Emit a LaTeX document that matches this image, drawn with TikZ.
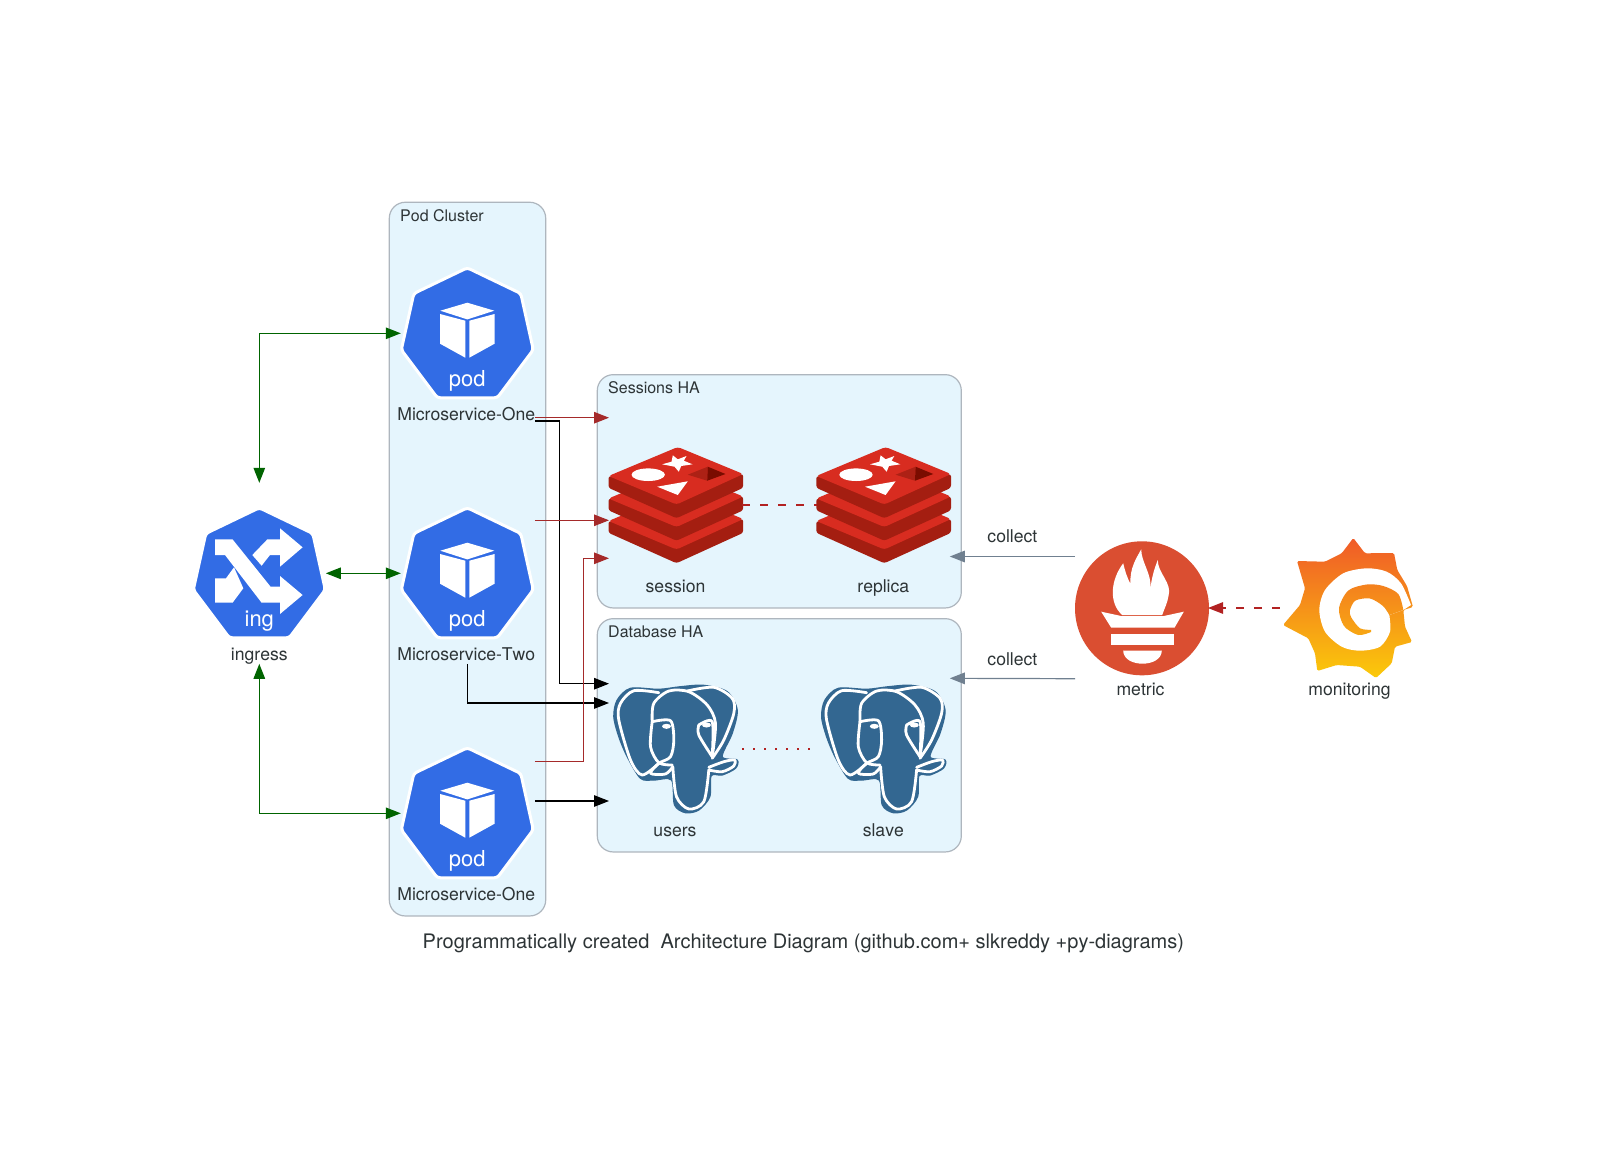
\documentclass[tikz,border=0pt]{standalone}
\usepackage{fontspec}
\setmainfont[Kerning=Off]{TeX Gyre Heros}
\usetikzlibrary{arrows.meta}
\definecolor{clusterfill}{HTML}{E5F5FD}
\definecolor{clusterline}{HTML}{AEB6BE}
\definecolor{inktext}{HTML}{2D3436}
\definecolor{kubeblue}{HTML}{326CE5}
\definecolor{redisbright}{HTML}{D82C20}
\definecolor{redisdark}{HTML}{A41E11}
\definecolor{redismid}{HTML}{AD2115}
\definecolor{redisdeep}{HTML}{7A0C00}
\definecolor{pgblue}{HTML}{336791}
\definecolor{promred}{HTML}{DA4E31}
\definecolor{grafanatop}{HTML}{F05A28}
\definecolor{grafanalow}{HTML}{FBCA0A}
\definecolor{greenline}{HTML}{006400}
\definecolor{redline}{HTML}{A52A2A}
\definecolor{fireline}{HTML}{B22222}
\definecolor{grayline}{HTML}{708090}
\tikzset{
conn/.style={line width=1.2pt, -{Triangle[length=15pt,width=11.5pt]}}, % plain directed edge
both/.style={conn, {Triangle[length=15pt,width=11.5pt]}-{Triangle[length=15pt,width=11.5pt]}, greenline},
cluster/.style={draw=clusterline, fill=clusterfill, line width=1.2pt, rounded corners=16pt},
clustertitle/.style={text=inktext, anchor=base west, inner sep=0pt, font=\fontsize{16}{18}\selectfont},
iconbox/.style={minimum width=133pt, minimum height=181pt, inner sep=0pt, outer sep=0pt}, % invisible box round each icon
iconlabel/.style={text=inktext, anchor=base, inner sep=0pt, font=\fontsize{17.6}{20}\selectfont},
icontext/.style={text=white, anchor=base, inner sep=0pt, font=\fontsize{22}{24}\selectfont},
elephantline/.style={draw=white, line width=2.8pt, line cap=round, line join=round},
hexagon/.pic={
  \path[fill=kubeblue, draw=white, line width=3pt, rounded corners=3pt]
    (0,-65.5) -- (53.5,-39.8) -- (66,16.5) -- (30,64.5) -- (-30,64.5) -- (-66,16.5) -- (-53.5,-39.8) -- cycle;
},
podicon/.pic={
  \pic {hexagon};
  \fill[white] (0,-30.6) -- (27,-22.6) -- (0,-13.9) -- (-27,-22.6) -- cycle;
  \fill[white] (-27.3,-19.3) -- (-2,-12.6) -- (-2,24.4) -- (-27.3,10.4) -- cycle;
  \fill[white] (27.3,-19.3) -- (2,-12.6) -- (2,24.4) -- (27.3,10.4) -- cycle;
  \node[icontext] (podtext) at (0,53.4) {pod};
},
ingicon/.pic={
  \pic {hexagon};
  \fill[white] (-44.3,-33.9) -- (-26.7,-33.9) -- (11.3,13.4) -- (20.7,13.4) -- (20.7,2.7) -- (43.3,21.7)
    -- (20.7,40.7) -- (20.7,29.4) -- (2.3,29.4) -- (-34.3,-18.3) -- (-44.3,-18.3) -- cycle;
  \fill[white] (20.7,-33.9) -- (20.7,-45) -- (43.3,-26) -- (20.7,-6.6) -- (20.7,-18.3) -- (10.7,-18.3)
    -- (2.3,-7.6) -- (-7,-18.3) -- (8,-33.9) -- cycle;
  \fill[white] (-44.3,5) -- (-33.3,5) -- (-25.3,-6) -- (-16,15) -- (-26.7,29.4) -- (-44.3,29.4) -- cycle;
  \node[icontext] (ingtext) at (0,53.4) {ing};
},
redisicon/.pic={
  \foreach \dy in {45,22.5,0} {
    \begin{scope}[yshift=-\dy pt]
      \fill[redisdark, rounded corners=2.5pt] (-67,-29) -- (-67,-17.2) -- (1,13.2) -- (67.7,-17.2) -- (67.7,-31) -- (1,-20) -- cycle;
      \fill[redisbright, rounded corners=3pt] (2.3,-58) -- (67.7,-31) -- (1,-0.5) -- (-67,-29) -- cycle;
    \end{scope}
  }
  \fill[white] (-2.7,-49.7) -- (2.3,-45.7) -- (11,-49) -- (8.3,-44.3) -- (17,-40.7) -- (5.7,-39) -- (3.3,-33.3)
    -- (-1,-38.3) -- (-13.3,-40.7) -- (-4,-43.3) -- cycle;
  \fill[white] (-27.3,-30.3) ellipse [x radius=16.7, y radius=6.3];
  \fill[white] (-18.3,-18.3) -- (12.3,-23.7) -- (2.3,-10) -- cycle;
  \fill[redismid] (12.3,-30.3) -- (32.3,-38.3) -- (31.7,-24.3) -- cycle;
  \fill[redisdeep] (32.3,-38.3) -- (50,-31) -- (31.7,-24.3) -- cycle;
},
pgicon/.pic={
  \path[fill=pgblue, draw=pgblue, line width=1.2pt, line join=round] plot[smooth cycle] coordinates {(-61.7,-32.3) (-58.3,-49) (-45,-60.7) (-16.7,-59.7) (5,-62.3) (28.3,-63.7)
    (51.7,-57.3) (61.7,-39) (56.7,-15.7) (46.7,7.7) (61.7,11) (60,19.3) (46.7,26) (35.7,26.7) (34.3,47.7) (23.3,61)
    (10,63.7) (-1,56) (-4,31) (-21.7,31) (-35,29.3) (-48.3,7.7) (-56.7,-12.3)};
  \draw[elephantline] plot[smooth] coordinates {(-16.7,-56.3) (-41.7,-58.3) (-55,-45.7) (-56.7,-29) (-45,11) (-33.3,26) (-16.7,14.3)};
  \draw[elephantline] plot[smooth] coordinates {(-23.3,-27.3) (-21.7,-45.7) (-6.7,-58) (13.3,-57.3) (31.7,-44) (40,-25.7) (36.7,7.7)};
  \draw[elephantline] plot[smooth] coordinates {(11.7,-58) (38.3,-61.7) (56.7,-50.7) (58.3,-35.7) (48.3,-9) (36.7,9.3)};
  \draw[elephantline] plot[smooth] coordinates {(-2.7,17.7) (1,47.7) (13.3,60) (28.3,52.7) (33.3,21)};
  \draw[elephantline] plot[smooth] coordinates {(33.3,18.3) (48.3,12.7) (59,11) (58.3,17) (46.7,22.7) (33.3,21)};
  \draw[elephantline] plot[smooth] coordinates {(-23.3,-27.3) (-5,-28.3) (-1.7,-9) (-5,7.7) (-16.7,14.3) (-25,24.3) (-10,25) (-2.7,17.7)};
  \draw[elephantline] plot[smooth] coordinates {(-23.3,-27.3) (-25,-2.3) (-16.7,13.7) (-3.3,16)};
  \draw[elephantline] plot[smooth] coordinates {(23.3,-24) (36.7,-27.3) (36.7,7.7)};
  \draw[elephantline] plot[smooth] coordinates {(23.3,-24) (23.3,-14) (36.7,7.7)};
  \fill[white] (-9,-22.7) ellipse [x radius=4.5, y radius=2.5];
  \fill[white] (31,-24) ellipse [x radius=4.5, y radius=2.5];
},
prometheusicon/.pic={
  \fill[promred] (0.5,0.3) circle [radius=67];
  \fill[white] (-19.3,7) .. controls (-33,-5) and (-31,-28) .. (-18.3,-44.7) .. controls (-16,-35) and (-14,-30) .. (-11,-24)
    .. controls (-12,-40) and (-5,-50) .. (-0.3,-58.7) .. controls (0,-45) and (10,-35) .. (9,-19.7)
    .. controls (10,-30) and (13,-40) .. (16.3,-48) .. controls (16,-35) and (31,-25) .. (27,-12)
    .. controls (26,-5) and (23,0) .. (20.7,7) -- cycle;
  \fill[white] (-40.3,3.7) -- (-20.3,8) -- (22.3,8) -- (42.3,3.7) -- (33,19.7) -- (-30.3,19.7) -- cycle;
  \fill[white] (-30.3,26) rectangle (32.3,37.3);
  \fill[white] (-18.3,42.7) -- (20.3,42.7) .. controls (20,60) and (-18,60) .. cycle;
},
grafanaicon/.pic={
  \shade[top color=grafanatop, bottom color=grafanalow, rounded corners=1.5pt]
    (7.3,-70) -- (19,-54.7) -- (48,-55) -- (51.3,-38) -- (61,-22) -- (67,-1) -- (57.3,2) -- (59,18.7) -- (66,34)
    -- (49,38.7) -- (45.7,55.3) -- (30,70) -- (14,58.7) -- (-9.3,57) -- (-28.7,63) -- (-31,45.3) -- (-37.7,30.3)
    -- (-63,17) -- (-46,-3) -- (-41,-19.7) -- (-49,-47) -- (-21,-46.3) -- (-4.3,-54.7) -- cycle;
  \fill[white] plot[smooth] coordinates {(65,-3) (55,-24.7) (40.7,-36.3) (20.7,-39.7) (-2.7,-34.7) (-21,-18) (-26.7,2)
    (-21,23.7) (-4.3,38.7) (14,42.7) (34,38.7) (44,23.7) (43.3,7)} -- (57.3,2) -- cycle;
  \shade[top color=grafanatop!66!grafanalow, bottom color=grafanatop!31!grafanalow]
    plot[smooth] coordinates {(57.3,2) (52.3,-14) (37.3,-22) (20.7,-23.5) (2.3,-17.5) (-7,0.3) (-2,18) (12.3,27) (25,24)}
    -- plot[smooth] coordinates {(25,21.8) (14,20.3) (5,9) (4,2) (9.5,-7.5) (24,-9.5) (37,-2) (43.3,7)} -- cycle;
},
}

\begin{document}
\begin{tikzpicture}[x=1pt, y=-1pt]
  \useasboundingbox (0,0) rectangle (1609,1152);
  \fill[white] (0,0) rectangle (1609,1152);

  % clusters
  \node[cluster, minimum width=156.4pt, minimum height=713.7pt] (podCluster) at (467.5,559.1) {};
  \node[cluster, minimum width=364pt, minimum height=233.3pt] (sessionCluster) at (779.3,491.3) {};
  \node[cluster, minimum width=364pt, minimum height=233.3pt] (dbCluster) at (779.3,735.3) {};
  \node[clustertitle] (podTitle) at (400,221) {Pod Cluster};
  \node[clustertitle] (sessionTitle) at (608,393.5) {Sessions HA};
  \node[clustertitle] (dbTitle) at (608,637.5) {Database HA};

  % icons
  \node[iconbox] (ingress) at (259.3,573.3) {};
  \node[iconbox] (podOne) at (467.3,333.3) {};
  \node[iconbox] (podTwo) at (467.3,573.3) {};
  \node[iconbox] (podThree) at (467.3,813.3) {};
  \node[iconbox] (session) at (675.5,505) {};
  \node[iconbox] (replica) at (883.3,505) {};
  \node[iconbox] (users) at (675.5,749) {};
  \node[iconbox] (slave) at (883.3,749) {};
  \node[iconbox] (metric) at (1141.5,608) {};
  \node[iconbox] (monitoring) at (1346,608) {};

  \pic at (ingress.center) {ingicon};
  \pic at (podOne.center) {podicon};
  \pic at (podTwo.center) {podicon};
  \pic at (podThree.center) {podicon};
  \pic at (session.center) {redisicon};
  \pic at (replica.center) {redisicon};
  \pic at (users.center) {pgicon};
  \pic at (slave.center) {pgicon};
  \pic at (metric.center) {prometheusicon};
  \pic at (monitoring.center) {grafanaicon};

  % labels under the icons
  \node[iconlabel] (ingressLabel) at ([yshift=3]ingress.south) {ingress};
  \node[iconlabel] (podOneLabel) at ([xshift=-1,yshift=3]podOne.south) {Microservice-One};
  \node[iconlabel] (podTwoLabel) at ([xshift=-1,yshift=3]podTwo.south) {Microservice-Two};
  \node[iconlabel] (podThreeLabel) at ([xshift=-1,yshift=3]podThree.south) {Microservice-One};
  \node[iconlabel] (sessionLabel) at ([yshift=3]session.south) {session};
  \node[iconlabel] (replicaLabel) at ([yshift=3]replica.south) {replica};
  \node[iconlabel] (usersLabel) at ([xshift=-0.5,yshift=3]users.south) {users};
  \node[iconlabel] (slaveLabel) at ([yshift=3]slave.south) {slave};
  \node[iconlabel] (metricLabel) at ([xshift=-1,yshift=3]metric.south) {metric};
  \node[iconlabel] (monitoringLabel) at ([xshift=3.5,yshift=3]monitoring.south) {monitoring};

  % connectors
  \draw[both] (ingress.north) |- (podOne.west);
  \draw[both] (ingress.east) -- (podTwo.west);
  \draw[both] (ingress.south) |- (podThree.west);

  \draw[conn, redline] ([xshift=1,yshift=-84.4]podOne.east) -- ([yshift=87.3]session.west);
  \draw[conn] ([xshift=1,yshift=-87.7]podOne.east) -- ++(25,0) |- ([yshift=65.3]users.west);
  \draw[conn, redline] ([xshift=1,yshift=53]podTwo.east) -- ([yshift=-15.3]session.west);
  \draw[conn] (podTwo.south) |- ([yshift=46]users.west);
  \draw[conn, redline] ([xshift=1,yshift=52]podThree.east) -- ++(49,0) |- ([yshift=-53.3]session.west);
  \draw[conn] ([xshift=1,yshift=12.3]podThree.east) -- ([yshift=-52]users.west);

  \draw[fireline, line width=1.2pt, dash pattern=on 8pt off 10pt] (session.east) -- (replica.west);
  \draw[fireline, line width=1.5pt, dash pattern=on 2pt off 9pt] (users.east) -- (slave.west);

  \draw[conn, grayline] ([yshift=51.5]metric.west) -- node[iconlabel, pos=0.5, yshift=14] (collectA) {collect} ([yshift=-51.5]replica.east);
  \draw[conn, grayline] ([yshift=-70.7]metric.west) -- node[iconlabel, pos=0.5, yshift=13] (collectB) {collect} ([yshift=70.7]slave.east);
  \draw[conn, fireline, dash pattern=on 8pt off 10pt] (monitoring.west) -- (metric.east);

  % title
  \node[iconlabel, font=\fontsize{20}{22}\selectfont] (title) at (803.4,948) {Programmatically created\ \ Architecture Diagram (github.com+ slkreddy +py-diagrams)};
\end{tikzpicture}
\end{document}
